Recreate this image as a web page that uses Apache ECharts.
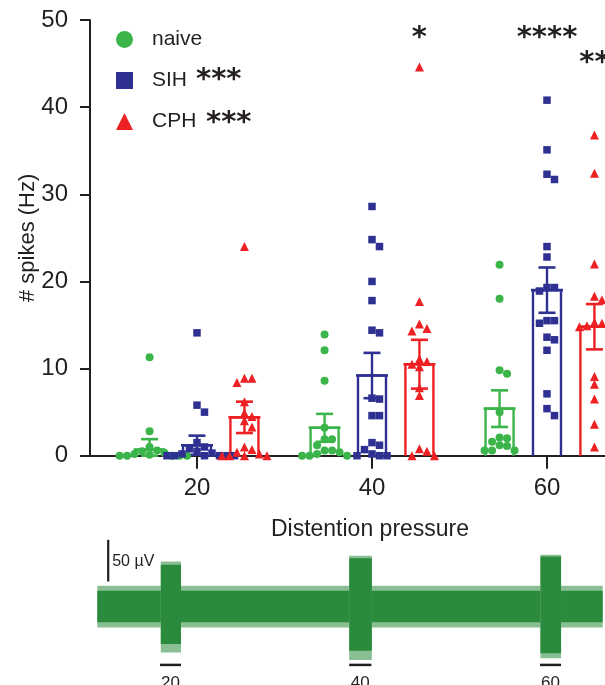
<!DOCTYPE html>
<html><head><meta charset="utf-8">
<script src="https://cdn.jsdelivr.net/npm/echarts@6/dist/echarts.min.js"></script>
<style>html,body{margin:0;padding:0;background:#fff}#c{width:605px;height:685px}</style>
</head><body><div id="c"></div>
<script>
// ---------- data ----------
const groups = ['naive', 'SIH', 'CPH'];
const pressures = [20, 40, 60];
const yTicks = [0, 10, 20, 30, 40, 50];

const naiveMean = [0.7, 3.2, 5.4];
const naiveSem  = [1.2, 1.6, 2.1];
const sihMean   = [1.2, 9.2, 19.0];
const sihSem    = [1.1, 2.6, 2.6];
const cphMean   = [4.4, 10.5, 14.8];
const cphSem    = [1.8, 2.8, 2.6];

const naive20 = [11.3, 2.8, 1.0, 0.6, 0.5, 0.3, 0.2, 0.1, 0, 0, 0, 0, 0];
const naive40 = [13.9, 12.1, 8.6, 3.2, 1.9, 1.9, 1.2, 0.6, 0.6, 0.4, 0.2, 0, 0, 0];
const naive60 = [21.9, 18.0, 9.8, 9.4, 5.0, 2.1, 2.0, 1.6, 1.2, 1.1, 0.6, 0.6, 0.6];
const sih20 = [14.1, 5.8, 5.0, 1.5, 1.0, 0.8, 0.5, 0.3, 0.2, 0, 0, 0, 0, 0, 0];
const sih40 = [28.6, 24.8, 24.0, 20.0, 17.8, 14.4, 14.1, 6.6, 6.5, 4.6, 4.6, 1.5, 1.2, 0.7, 0.2, 0, 0, 0];
const sih60 = [40.8, 35.1, 32.3, 31.7, 24.0, 22.8, 19.3, 19.3, 18.9, 15.5, 15.5, 15.2, 13.6, 13.3, 12.1, 7.1, 5.4, 4.6];
const cph20 = [24.0, 8.9, 8.9, 8.4, 6.2, 4.9, 4.5, 4.0, 3.3, 1.0, 0.7, 0.4, 0.2, 0, 0, 0, 0];
const cph40 = [44.6, 17.7, 15.1, 14.6, 14.3, 11.1, 10.8, 10.5, 10.2, 7.8, 6.9, 0.8, 0.5, 0, 0];
const cph60 = [36.8, 32.4, 22.0, 18.3, 17.9, 15.3, 15.2, 14.9, 14.8, 14.8, 9.1, 8.2, 6.5, 3.6, 1.0];

const legendSig = ['', '***', '***'];
const sigPressure = [40, 60, 60];
const sigGroup = [2, 1, 2];
const sigY = [48.7, 48.7, 45.8];
const sigText = ['*', '****', '**'];

// recording trace (envelope), time in s, amplitude in µV
const segStart    = [0, 31.4, 41.4, 124.6, 135.8, 219.2, 229.4];
const segEnd      = [31.4, 41.4, 124.6, 135.8, 219.2, 229.4, 250];
const segLow      = [-25, -55, -25, -64, -25, -62, -25];   // spike extent
const segHigh     = [25, 54, 25, 61, 25, 62, 25];
const segCoreLow  = [-19, -45, -19, -53, -19, -56, -19];   // dense core
const segCoreHigh = [19, 50, 19, 58, 19, 60, 19];
const stimStart = [31, 124.6, 219];
const stimEnd   = [41.4, 135.6, 229.4];
const stimLabels = ['20', '40', '60'];
const scaleBarT = 5.4;
const scaleBarLow = 30, scaleBarHigh = 80;
const scaleBarLabel = '50 µV';

// ---------- layout / style ----------
const FONT = '"Liberation Sans", Arial, sans-serif';
const INK = '#231f20';
const COLORS = ['#3bb54a', '#2e3192', '#ed2024'];
const SYMBOLS = ['circle', 'rect', 'triangle'];
const SYMSIZE = [8, 7.5, 9];
const OFFSET = [-5.42, 0, 5.42];
const X_MIN = 7.771, X_MAX = 66.63;
const PXX = 515 / (X_MAX - X_MIN);
const PXY = 435.7 / 50;
const TRACE = '#2a8b3c';

const means = [naiveMean, sihMean, cphMean];
const sems = [naiveSem, sihSem, cphSem];
const pts = [[naive20, naive40, naive60], [sih20, sih40, sih60], [cph20, cph40, cph60]];

function swarm(vals, cx) {
  const placed = [];
  const sorted = vals.slice().sort((a, b) => b - a);
  const step = 7.5, minD = 7.5;
  return sorted.map(v => {
    const py = v * PXY;
    for (let k = 0; k < 30; k++) {
      const off = (k === 0 ? 0 : (k % 2 ? 1 : -1) * Math.ceil(k / 2)) * step;
      if (placed.every(p => Math.hypot(p[0] - off, p[1] - py) >= minD)) {
        placed.push([off, py]);
        return [cx + off / PXX, v];
      }
    }
    return [cx, v];
  });
}

const barData = [];
groups.forEach((g, gi) => pressures.forEach((p, i) => barData.push([p + OFFSET[gi], means[gi][i], sems[gi][i], gi])));

const scatterSeries = groups.map((g, gi) => {
  let data = [];
  pressures.forEach((p, i) => { data = data.concat(swarm(pts[gi][i], p + OFFSET[gi])); });
  return {
    name: g, type: 'scatter', xAxisIndex: 0, yAxisIndex: 0,
    symbol: SYMBOLS[gi], symbolSize: SYMSIZE[gi],
    itemStyle: { color: COLORS[gi], opacity: 1 },
    data: data, z: 5, animation: false
  };
});

function envelope(lowArr, highArr, opacity) {
  return {
    type: 'custom', xAxisIndex: 1, yAxisIndex: 1, z: 2,
    data: segStart.map((s, i) => [s, segEnd[i], lowArr[i], highArr[i]]),
    renderItem(params, api) {
      const a = api.coord([api.value(0), api.value(3)]);
      const b = api.coord([api.value(1), api.value(2)]);
      return { type: 'rect', shape: { x: a[0], y: a[1], width: b[0] - a[0], height: b[1] - a[1] },
        style: { fill: TRACE, opacity: opacity } };
    }
  };
}

const option = {
  animation: false,
  backgroundColor: '#fff',
  grid: [
    { left: 90, right: 0, top: 20, bottom: 229.3 },
    { left: 97.3, right: 2.3, top: 523.1, bottom: 3.4 }
  ],
  xAxis: [
    {
      type: 'value', gridIndex: 0, min: X_MIN, max: X_MAX,
      name: 'Distention pressure', nameLocation: 'middle', nameGap: 62,
      nameTextStyle: { fontSize: 23, color: INK, fontFamily: FONT, padding: [0, 0, 0, 45] },
      axisLine: { show: true, onZero: false, lineStyle: { color: INK, width: 2 } },
      axisTick: { show: true, length: 13, lineStyle: { color: INK, width: 2 }, customValues: pressures },
      axisLabel: { fontSize: 24, color: INK, fontFamily: FONT, margin: 21, customValues: pressures },
      splitLine: { show: false }
    },
    { type: 'value', gridIndex: 1, min: 0, max: 250, show: false }
  ],
  yAxis: [
    {
      type: 'value', gridIndex: 0, min: 0, max: 50, interval: 10,
      name: '# spikes (Hz)', nameLocation: 'middle', nameGap: 51, nameMoveOverlap: false,
      nameTextStyle: { fontSize: 22, color: INK, fontFamily: FONT },
      axisLine: { show: true, lineStyle: { color: INK, width: 2 } },
      axisTick: { show: true, length: 10, lineStyle: { color: INK, width: 2 } },
      axisLabel: { fontSize: 24, color: INK, fontFamily: FONT, margin: 22 },
      splitLine: { show: false }
    },
    { type: 'value', gridIndex: 1, min: -90, max: 100, show: false }
  ],
  legend: {
    data: groups, orient: 'vertical', left: 116, top: 29, padding: 0,
    itemWidth: 17, itemHeight: 17, itemGap: 20, selectedMode: false,
    textStyle: { fontSize: 21, color: INK, fontFamily: FONT, padding: [8, 0, 0, 14] }
  },
  graphic: [
    { type: 'text', left: 196, top: 66, style: { text: legendSig[1], fontSize: 29, fontWeight: 'bold', fontFamily: '"DejaVu Sans"', fill: INK } },
    { type: 'text', left: 206, top: 109, style: { text: legendSig[2], fontSize: 29, fontWeight: 'bold', fontFamily: '"DejaVu Sans"', fill: INK } }
  ],
  series: [
    {
      type: 'custom', xAxisIndex: 0, yAxisIndex: 0, data: barData, z: 3,
      renderItem(params, api) {
        const x = api.value(0), m = api.value(1), s = api.value(2), g = api.value(3);
        const c = COLORS[g];
        const p0 = api.coord([x, 0]), pm = api.coord([x, m]);
        const pt = api.coord([x, m + s]), pb = api.coord([x, Math.max(0, m - s)]);
        const hw = 14, cap = 8.5, cx = p0[0];
        return { type: 'group', children: [
          { type: 'polyline', shape: { points: [[cx - hw, p0[1]], [cx - hw, pm[1]], [cx + hw, pm[1]], [cx + hw, p0[1]]] },
            style: { stroke: c, lineWidth: 2.4, fill: null } },
          { type: 'line', shape: { x1: cx - hw - 2, y1: pm[1], x2: cx + hw + 2, y2: pm[1] }, style: { stroke: c, lineWidth: 2.6 } },
          { type: 'line', shape: { x1: cx, y1: pt[1], x2: cx, y2: pb[1] }, style: { stroke: c, lineWidth: 2.4 } },
          { type: 'line', shape: { x1: cx - cap, y1: pt[1], x2: cx + cap, y2: pt[1] }, style: { stroke: c, lineWidth: 2.6 } },
          { type: 'line', shape: { x1: cx - cap, y1: pb[1], x2: cx + cap, y2: pb[1] }, style: { stroke: c, lineWidth: 2.6 } }
        ] };
      }
    },
    ...scatterSeries,
    {
      type: 'custom', xAxisIndex: 0, yAxisIndex: 0, z: 6,
      data: sigText.map((t, i) => [sigPressure[i] + OFFSET[sigGroup[i]], sigY[i], i]),
      renderItem(params, api) {
        const p = api.coord([api.value(0), api.value(1)]);
        return { type: 'text', x: p[0], y: p[1] + 7,
          style: { text: sigText[api.value(2)], fontSize: 29, fontWeight: 'bold', fontFamily: '"DejaVu Sans"', fill: INK, align: 'center', verticalAlign: 'middle' } };
      }
    },
    envelope(segLow, segHigh, 0.55),
    envelope(segCoreLow, segCoreHigh, 1),
    {
      type: 'custom', xAxisIndex: 1, yAxisIndex: 1, z: 2,
      data: stimStart.map((s, i) => [s, stimEnd[i], i]),
      renderItem(params, api) {
        const a = api.coord([api.value(0), -70]);
        const b = api.coord([api.value(1), -70]);
        const lb = api.coord([(api.value(0) + api.value(1)) / 2, -92]);
        return { type: 'group', children: [
          { type: 'line', shape: { x1: a[0], y1: a[1], x2: b[0], y2: b[1] }, style: { stroke: INK, lineWidth: 2.5 } },
          { type: 'text', x: lb[0], y: lb[1], style: { text: stimLabels[api.value(2)], fontSize: 17, fontFamily: FONT, fill: INK, align: 'center', verticalAlign: 'middle' } }
        ] };
      }
    },
    {
      type: 'custom', xAxisIndex: 1, yAxisIndex: 1, z: 2,
      data: [[scaleBarT, scaleBarLow, scaleBarHigh]],
      renderItem(params, api) {
        const a = api.coord([api.value(0), api.value(1)]);
        const b = api.coord([api.value(0), api.value(2)]);
        return { type: 'group', children: [
          { type: 'line', shape: { x1: a[0], y1: a[1], x2: b[0], y2: b[1] }, style: { stroke: INK, lineWidth: 2.2 } },
          { type: 'text', x: a[0] + 4, y: (a[1] + b[1]) / 2 + 1, style: { text: scaleBarLabel, fontSize: 16, fontFamily: FONT, fill: INK, align: 'left', verticalAlign: 'middle' } }
        ] };
      }
    }
  ]
};
const chart = echarts.init(document.getElementById('c'));
chart.setOption(option);
</script>
</body></html>
